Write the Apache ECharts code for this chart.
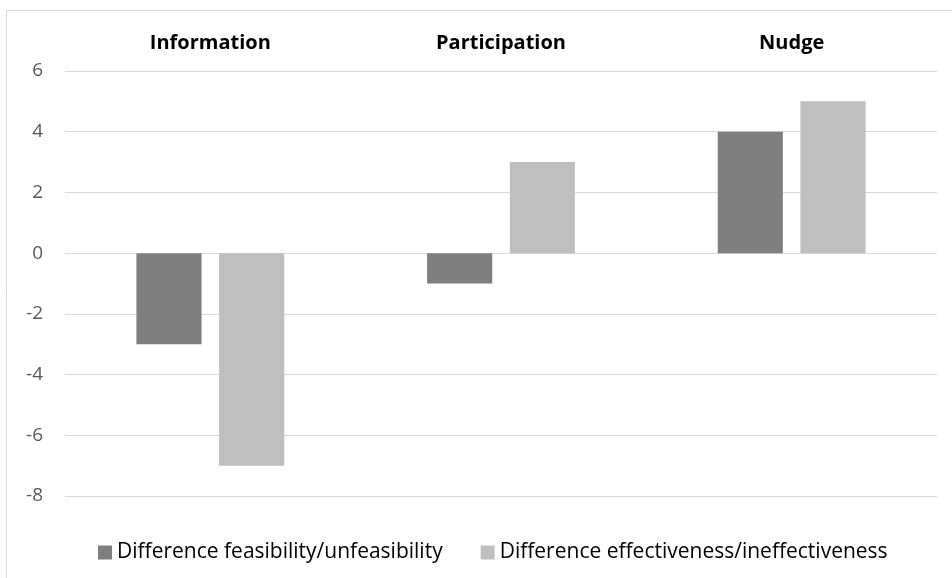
<!DOCTYPE html>
<html><head><meta charset="utf-8">
<script src="https://cdn.jsdelivr.net/npm/echarts@6/dist/echarts.min.js"></script>
<style>html,body{margin:0;padding:0;background:#fff}#c{width:952px;height:578px}</style>
</head><body><div id="c"></div>
<script>
const categories = ['Information', 'Participation', 'Nudge'];
const feasibility = [-3, -1, 4];
const effectiveness = [-7, 3, 5];
const seriesNames = ['Difference feasibility/unfeasibility', 'Difference effectiveness/ineffectiveness'];
const yMin = -8, yMax = 6, yStep = 2;

const chart = echarts.init(document.getElementById('c'));
const font = '"Open Sans", sans-serif';
chart.setOption({
  animation: false,
  graphic: [{type:'rect', shape:{x:6.5,y:10.5,width:1000,height:1000}, style:{fill:'none', stroke:'#d9d9d9', lineWidth:1}}],
  grid: {left: 65, right: 15, top: 71, bottom: 82},
  legend: {
    data: seriesNames, top: 537, left: 93, itemWidth: 14, itemHeight: 14, itemGap: 38, icon: 'rect',
    textStyle: {fontFamily: font, fontSize: 21, color: '#000'}
  },
  xAxis: {
    type: 'category', data: categories, position: 'top',
    axisLine: {show: false}, axisTick: {show: false},
    axisLabel: {margin: 18, fontFamily: font, fontSize: 20, fontWeight: 'bold', color: '#000'}
  },
  yAxis: {
    type: 'value', min: yMin, max: yMax, interval: yStep,
    axisLine: {show: false}, axisTick: {show: false},
    splitLine: {lineStyle: {color: '#d9d9d9', width: 1}},
    axisLabel: {margin: 22, fontFamily: font, fontSize: 19, color: '#595959'}
  },
  series: [
    {name: seriesNames[0], type: 'bar', data: feasibility, barWidth: '22.4%', barGap: '27%', itemStyle: {color: '#7f7f7f'}},
    {name: seriesNames[1], type: 'bar', data: effectiveness, barWidth: '22.4%', itemStyle: {color: '#bfbfbf'}}
  ]
});
</script></body></html>
